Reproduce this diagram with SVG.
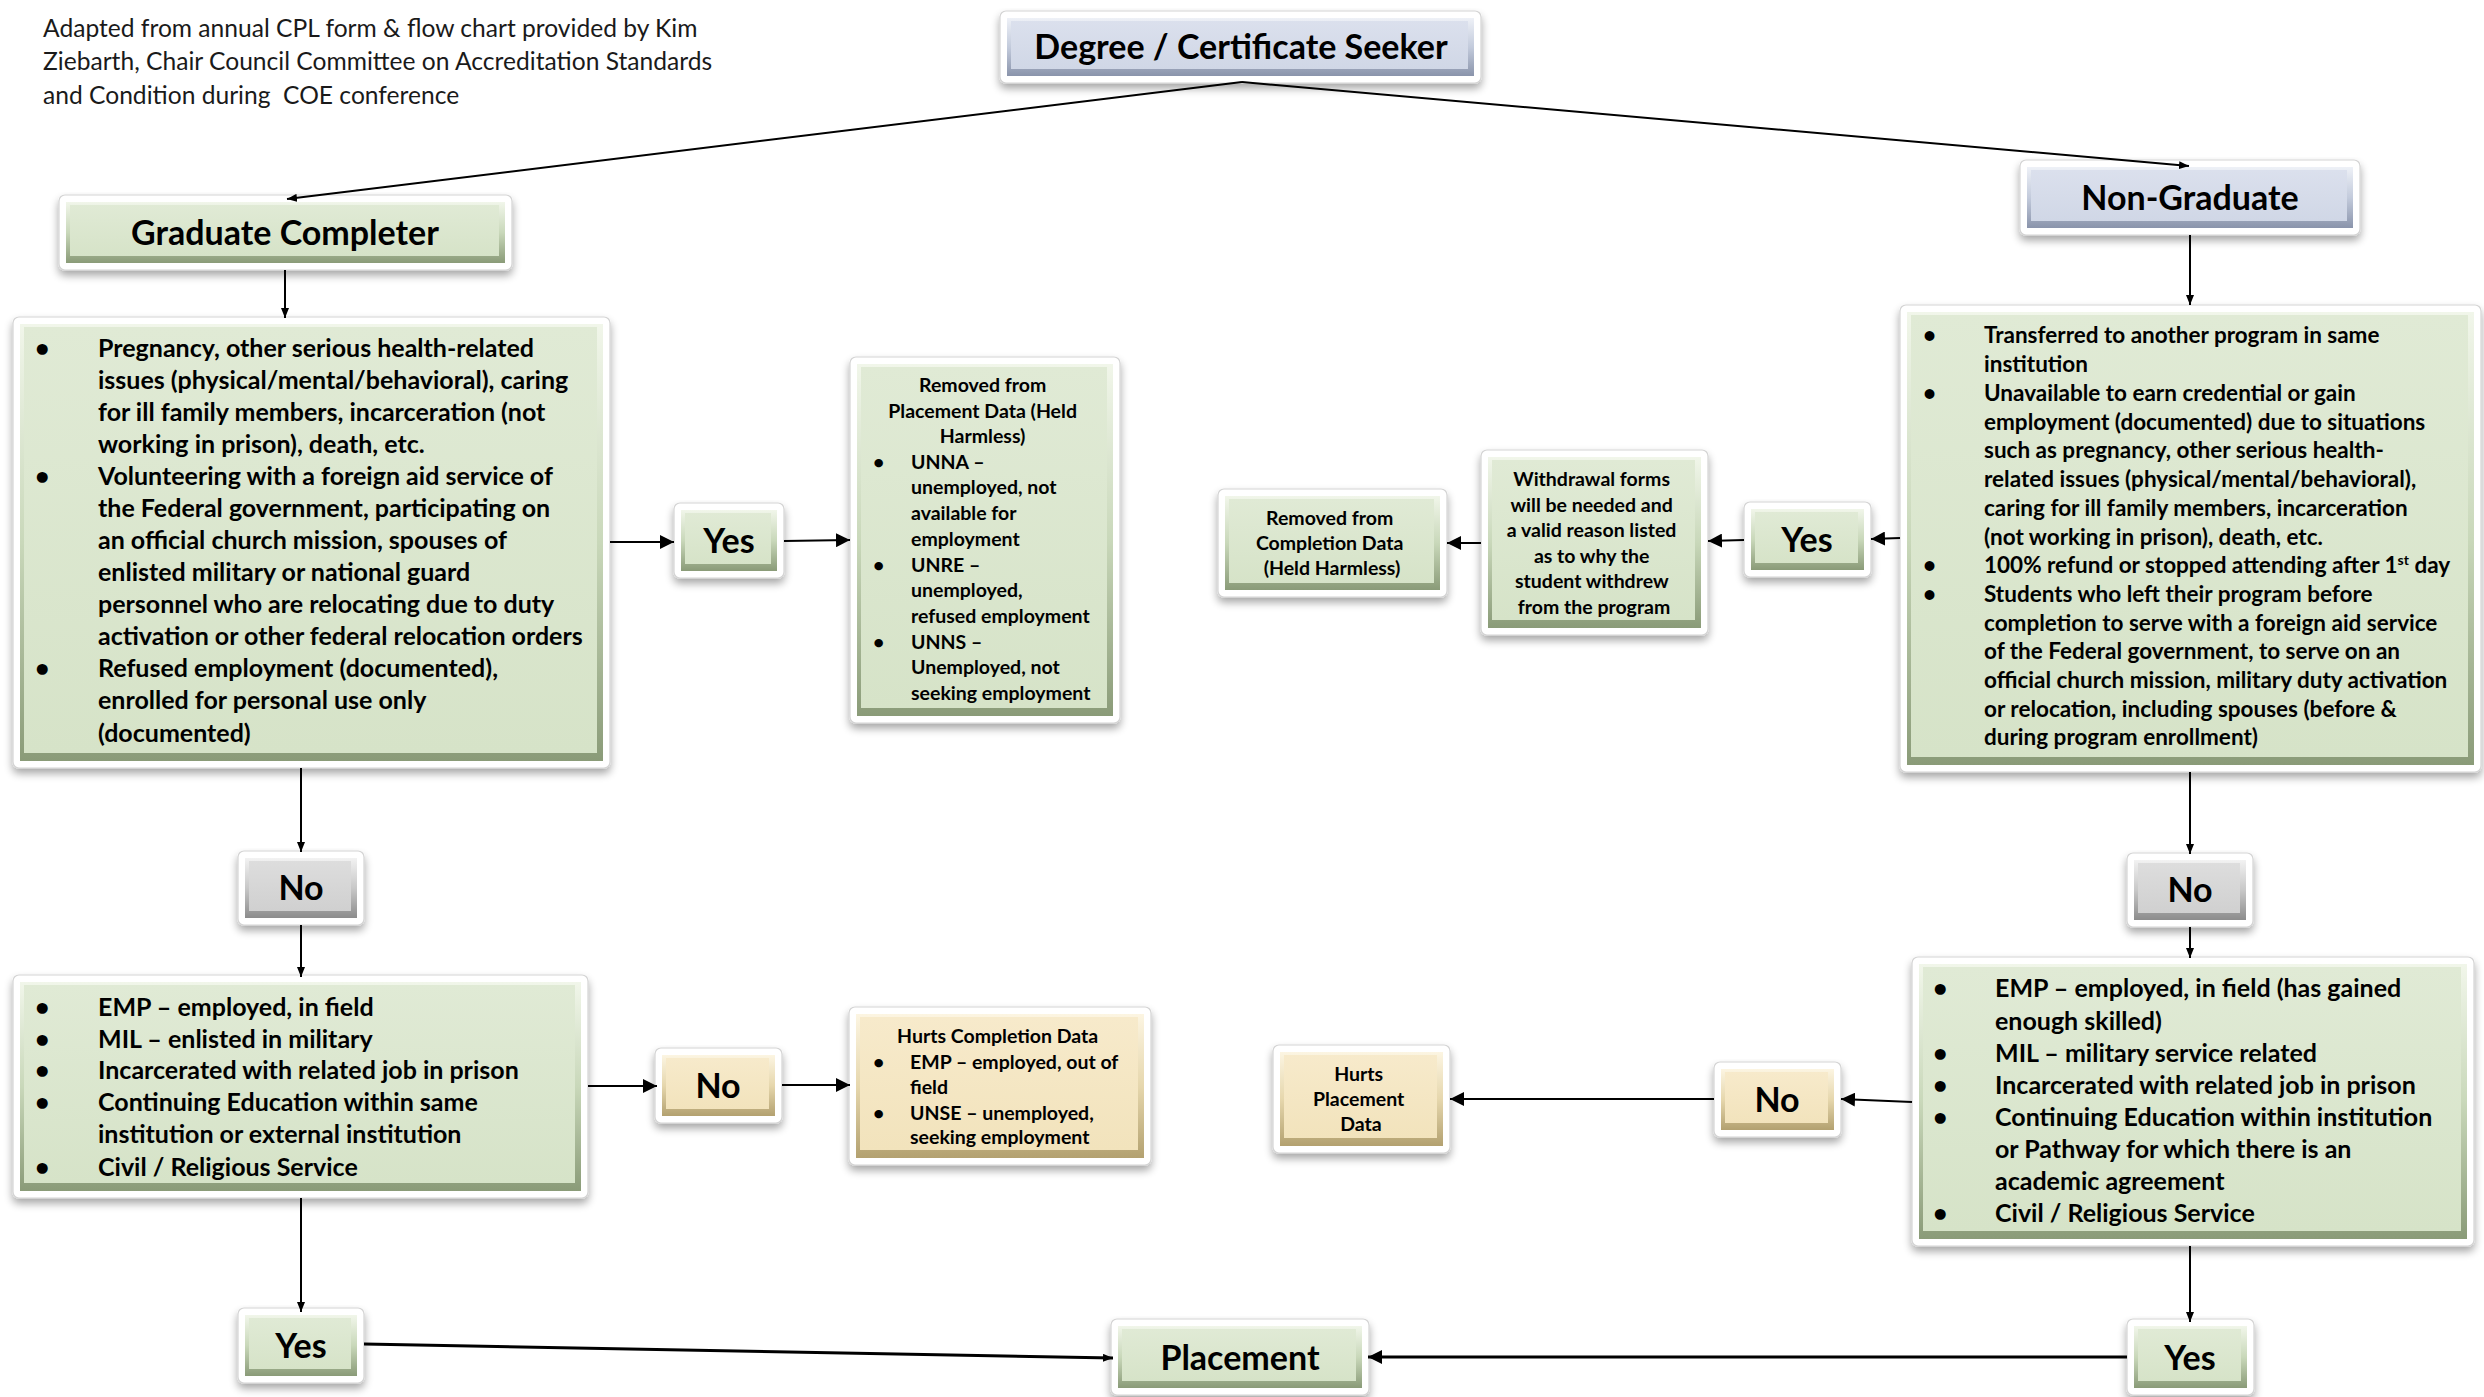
<svg xmlns="http://www.w3.org/2000/svg" width="2484" height="1397" viewBox="0 0 2484 1397">
<defs>
<filter id="sh" x="-10%" y="-10%" width="120%" height="130%">
<feGaussianBlur in="SourceAlpha" stdDeviation="4"/>
<feOffset dy="5" result="b"/>
<feComponentTransfer><feFuncA type="linear" slope="0.35"/></feComponentTransfer>
<feMerge><feMergeNode/><feMergeNode in="SourceGraphic"/></feMerge>
</filter>
<linearGradient id="gE" x1="0" y1="0" x2="0" y2="1"><stop offset="0" stop-color="#f1f6ea"/><stop offset="0.5" stop-color="#c9d8ba"/><stop offset="1" stop-color="#8a9b78"/></linearGradient>
<linearGradient id="gF" x1="0" y1="0" x2="0" y2="1"><stop offset="0" stop-color="#e0eAd5"/><stop offset="1" stop-color="#d6e3c8"/></linearGradient>
<linearGradient id="bE" x1="0" y1="0" x2="0" y2="1"><stop offset="0" stop-color="#eef1f7"/><stop offset="0.5" stop-color="#c3cbdc"/><stop offset="1" stop-color="#8a94ab"/></linearGradient>
<linearGradient id="bF" x1="0" y1="0" x2="0" y2="1"><stop offset="0" stop-color="#dbe0ed"/><stop offset="1" stop-color="#d0d7e6"/></linearGradient>
<linearGradient id="yE" x1="0" y1="0" x2="0" y2="1"><stop offset="0" stop-color="#fcf5e2"/><stop offset="0.5" stop-color="#e6d7ad"/><stop offset="1" stop-color="#b3a170"/></linearGradient>
<linearGradient id="yF" x1="0" y1="0" x2="0" y2="1"><stop offset="0" stop-color="#f7eacb"/><stop offset="1" stop-color="#f2e3bc"/></linearGradient>
<linearGradient id="kE" x1="0" y1="0" x2="0" y2="1"><stop offset="0" stop-color="#f2f2f2"/><stop offset="0.5" stop-color="#c8c8c8"/><stop offset="1" stop-color="#8c8c8c"/></linearGradient>
<linearGradient id="kF" x1="0" y1="0" x2="0" y2="1"><stop offset="0" stop-color="#dddddd"/><stop offset="1" stop-color="#d0d0d0"/></linearGradient>
<marker id="mS" markerUnits="userSpaceOnUse" markerWidth="10" markerHeight="8" refX="10" refY="4" orient="auto"><path d="M0,0 L10,4 L0,8 z" fill="#000"/></marker>
<marker id="mL" markerUnits="userSpaceOnUse" markerWidth="14" markerHeight="14" refX="14" refY="7" orient="auto"><path d="M0,0 L14,7 L0,14 z" fill="#000"/></marker>
</defs>
<style>
.frame{fill:#fff;stroke:#d4d4d4;stroke-width:1.2;filter:url(#sh)}
.ge{fill:url(#gE)}.gf{fill:url(#gF)}
.be{fill:url(#bE)}.bf{fill:url(#bF)}
.ye{fill:url(#yE)}.yf{fill:url(#yF)}
.ke{fill:url(#kE)}.kf{fill:url(#kF)}
text{font-family:Lato,"Open Sans",sans-serif;fill:#000}
.h{font-weight:700;font-size:34px;text-anchor:middle}
.b{font-weight:700;font-size:25px}
.r{font-weight:700;font-size:22.5px}
.s{font-weight:700;font-size:19.5px}
.m{text-anchor:middle}
.note{font-size:24.6px;fill:#1a1a1a}
.c{stroke:#000;stroke-width:2;fill:none}
.cs{marker-end:url(#mS)}
.cl{marker-end:url(#mL)}
.thick{stroke-width:3}
</style>

<g id="note">
<text class="note" x="43" y="37">Adapted from annual CPL form &amp; flow chart provided by Kim</text>
<text class="note" x="43" y="70">Ziebarth, Chair Council Committee on Accreditation Standards</text>
<text class="note" x="43" y="104">and Condition during&#160; COE conference</text>
</g>

<g id="degree">
<rect class="frame" x="1000" y="11" width="481" height="72" rx="6"/>
<rect class="be" x="1007" y="18" width="467" height="58"/>
<rect class="bf" x="1011" y="21" width="457" height="48"/>
<text class="h" x="1241" y="59">Degree / Certificate Seeker</text>
</g>

<g id="graduate">
<rect class="frame" x="59" y="195" width="453" height="75" rx="6"/>
<rect class="ge" x="66" y="202" width="439" height="61"/>
<rect class="gf" x="70" y="205" width="429" height="51"/>
<text class="h" x="285" y="245">Graduate Completer</text>
</g>

<g id="nongraduate">
<rect class="frame" x="2020" y="160" width="340" height="75" rx="6"/>
<rect class="be" x="2027" y="167" width="326" height="61"/>
<rect class="bf" x="2031" y="170" width="316" height="51"/>
<text class="h" x="2190" y="210">Non-Graduate</text>
</g>

<g id="left-conditions">
<rect class="frame" x="13" y="317" width="597" height="451" rx="6"/>
<rect class="ge" x="20" y="324" width="583" height="437"/>
<rect class="gf" x="24" y="327" width="573" height="426"/>
<text class="b"><tspan x="35" y="357">•</tspan><tspan x="98" y="357">Pregnancy, other serious health-related</tspan>
<tspan x="98" y="389">issues (physical/mental/behavioral), caring</tspan>
<tspan x="98" y="421">for ill family members, incarceration (not</tspan>
<tspan x="98" y="453">working in prison), death, etc.</tspan>
<tspan x="35" y="485">•</tspan><tspan x="98" y="485">Volunteering with a foreign aid service of</tspan>
<tspan x="98" y="517">the Federal government, participating on</tspan>
<tspan x="98" y="549">an official church mission, spouses of</tspan>
<tspan x="98" y="581">enlisted military or national guard</tspan>
<tspan x="98" y="613">personnel who are relocating due to duty</tspan>
<tspan x="98" y="645">activation or other federal relocation orders</tspan>
<tspan x="35" y="677">•</tspan><tspan x="98" y="677">Refused employment (documented),</tspan>
<tspan x="98" y="709">enrolled for personal use only</tspan>
<tspan x="98" y="742">(documented)</tspan></text>
</g>

<g id="yes-left">
<rect class="frame" x="674" y="503" width="110" height="75" rx="6"/>
<rect class="ge" x="681" y="510" width="96" height="61"/>
<rect class="gf" x="685" y="513" width="86" height="51"/>
<text class="h" x="729" y="553">Yes</text>
</g>

<g id="removed-placement">
<rect class="frame" x="850" y="357" width="270" height="366" rx="6"/>
<rect class="ge" x="857" y="364" width="256" height="352"/>
<rect class="gf" x="861" y="367" width="246" height="341"/>
<text class="s"><tspan class="m" x="985" y="392">Removed from</tspan>
<tspan class="m" x="985" y="418">Placement Data (Held</tspan>
<tspan class="m" x="985" y="443">Harmless)</tspan>
<tspan x="873" y="469">•</tspan><tspan x="911" y="469">UNNA –</tspan>
<tspan x="911" y="494">unemployed, not</tspan>
<tspan x="911" y="520">available for</tspan>
<tspan x="911" y="546">employment</tspan>
<tspan x="873" y="572">•</tspan><tspan x="911" y="572">UNRE –</tspan>
<tspan x="911" y="597">unemployed,</tspan>
<tspan x="911" y="623">refused employment</tspan>
<tspan x="873" y="649">•</tspan><tspan x="911" y="649">UNNS –</tspan>
<tspan x="911" y="674">Unemployed, not</tspan>
<tspan x="911" y="700">seeking employment</tspan></text>
</g>

<g id="right-conditions">
<rect class="frame" x="1900" y="305" width="581" height="467" rx="6"/>
<rect class="ge" x="1907" y="312" width="567" height="453"/>
<rect class="gf" x="1911" y="315" width="557" height="442"/>
<text class="r"><tspan x="1923" y="343">•</tspan><tspan x="1984" y="343">Transferred to another program in same</tspan>
<tspan x="1984" y="372">institution</tspan>
<tspan x="1923" y="401">•</tspan><tspan x="1984" y="401">Unavailable to earn credential or gain</tspan>
<tspan x="1984" y="430">employment (documented) due to situations</tspan>
<tspan x="1984" y="458">such as pregnancy, other serious health-</tspan>
<tspan x="1984" y="487">related issues (physical/mental/behavioral),</tspan>
<tspan x="1984" y="516">caring for ill family members, incarceration</tspan>
<tspan x="1984" y="545">(not working in prison), death, etc.</tspan>
<tspan x="1923" y="573">•</tspan><tspan x="1984" y="573">100% refund or stopped attending after 1</tspan><tspan font-size="14" dy="-8">st</tspan><tspan dy="8"> day</tspan>
<tspan x="1923" y="602">•</tspan><tspan x="1984" y="602">Students who left their program before</tspan>
<tspan x="1984" y="631">completion to serve with a foreign aid service</tspan>
<tspan x="1984" y="659">of the Federal government, to serve on an</tspan>
<tspan x="1984" y="688">official church mission, military duty activation</tspan>
<tspan x="1984" y="717">or relocation, including spouses (before &amp;</tspan>
<tspan x="1984" y="745">during program enrollment)</tspan></text>
</g>

<g id="yes-right">
<rect class="frame" x="1744" y="502" width="127" height="75" rx="6"/>
<rect class="ge" x="1751" y="509" width="113" height="61"/>
<rect class="gf" x="1755" y="512" width="103" height="51"/>
<text class="h" x="1807" y="552">Yes</text>
</g>

<g id="withdrawal">
<rect class="frame" x="1481" y="450" width="227" height="185" rx="6"/>
<rect class="ge" x="1488" y="457" width="213" height="171"/>
<rect class="gf" x="1492" y="460" width="203" height="160"/>
<text class="s m"><tspan x="1594" y="486">Withdrawal forms</tspan>
<tspan x="1594" y="512">will be needed and</tspan>
<tspan x="1594" y="537">a valid reason listed</tspan>
<tspan x="1594" y="563">as to why the</tspan>
<tspan x="1594" y="588">student withdrew</tspan>
<tspan x="1594" y="614">from the program</tspan></text>
</g>

<g id="removed-completion">
<rect class="frame" x="1218" y="489" width="229" height="108" rx="6"/>
<rect class="ge" x="1225" y="496" width="215" height="94"/>
<rect class="gf" x="1229" y="499" width="205" height="84"/>
<text class="s m"><tspan x="1332" y="525">Removed from</tspan>
<tspan x="1332" y="550">Completion Data</tspan>
<tspan x="1332" y="575">(Held Harmless)</tspan></text>
</g>

<g id="no-left">
<rect class="frame" x="238" y="851" width="126" height="74" rx="6"/>
<rect class="ke" x="245" y="858" width="112" height="60"/>
<rect class="kf" x="249" y="861" width="102" height="50"/>
<text class="h" x="301" y="900">No</text>
</g>

<g id="left-outcomes">
<rect class="frame" x="13" y="975" width="575" height="223" rx="6"/>
<rect class="ge" x="20" y="982" width="561" height="209"/>
<rect class="gf" x="24" y="985" width="551" height="198"/>
<text class="b"><tspan x="35" y="1016">•</tspan><tspan x="98" y="1016">EMP – employed, in field</tspan>
<tspan x="35" y="1048">•</tspan><tspan x="98" y="1048">MIL – enlisted in military</tspan>
<tspan x="35" y="1079">•</tspan><tspan x="98" y="1079">Incarcerated with related job in prison</tspan>
<tspan x="35" y="1111">•</tspan><tspan x="98" y="1111">Continuing Education within same</tspan>
<tspan x="98" y="1143">institution or external institution</tspan>
<tspan x="35" y="1176">•</tspan><tspan x="98" y="1176">Civil / Religious Service</tspan></text>
</g>

<g id="no-left-yellow">
<rect class="frame" x="655" y="1048" width="127" height="75" rx="6"/>
<rect class="ye" x="662" y="1055" width="113" height="61"/>
<rect class="yf" x="666" y="1058" width="103" height="51"/>
<text class="h" x="718" y="1098">No</text>
</g>

<g id="hurts-completion">
<rect class="frame" x="849" y="1007" width="302" height="158" rx="6"/>
<rect class="ye" x="856" y="1014" width="288" height="144"/>
<rect class="yf" x="860" y="1017" width="278" height="133"/>
<text class="s"><tspan class="m" x="1000" y="1043">Hurts Completion Data</tspan>
<tspan x="873" y="1069">•</tspan><tspan x="910" y="1069">EMP – employed, out of</tspan>
<tspan x="910" y="1094">field</tspan>
<tspan x="873" y="1120">•</tspan><tspan x="910" y="1120">UNSE – unemployed,</tspan>
<tspan x="910" y="1144">seeking employment</tspan></text>
</g>

<g id="no-right">
<rect class="frame" x="2127" y="853" width="126" height="74" rx="6"/>
<rect class="ke" x="2134" y="860" width="112" height="60"/>
<rect class="kf" x="2138" y="863" width="102" height="50"/>
<text class="h" x="2190" y="902">No</text>
</g>

<g id="right-outcomes">
<rect class="frame" x="1912" y="957" width="562" height="289" rx="6"/>
<rect class="ge" x="1919" y="964" width="548" height="275"/>
<rect class="gf" x="1923" y="967" width="538" height="264"/>
<text class="b"><tspan x="1933" y="997">•</tspan><tspan x="1995" y="997">EMP – employed, in field (has gained</tspan>
<tspan x="1995" y="1030">enough skilled)</tspan>
<tspan x="1933" y="1062">•</tspan><tspan x="1995" y="1062">MIL – military service related</tspan>
<tspan x="1933" y="1094">•</tspan><tspan x="1995" y="1094">Incarcerated with related job in prison</tspan>
<tspan x="1933" y="1126">•</tspan><tspan x="1995" y="1126">Continuing Education within institution</tspan>
<tspan x="1995" y="1158">or Pathway for which there is an</tspan>
<tspan x="1995" y="1190">academic agreement</tspan>
<tspan x="1933" y="1222">•</tspan><tspan x="1995" y="1222">Civil / Religious Service</tspan></text>
</g>

<g id="no-right-yellow">
<rect class="frame" x="1714" y="1062" width="127" height="75" rx="6"/>
<rect class="ye" x="1721" y="1069" width="113" height="61"/>
<rect class="yf" x="1725" y="1072" width="103" height="51"/>
<text class="h" x="1777" y="1112">No</text>
</g>

<g id="hurts-placement">
<rect class="frame" x="1273" y="1045" width="177" height="108" rx="6"/>
<rect class="ye" x="1280" y="1052" width="163" height="94"/>
<rect class="yf" x="1284" y="1055" width="153" height="83"/>
<text class="s m"><tspan x="1361" y="1081">Hurts</tspan>
<tspan x="1361" y="1106">Placement</tspan>
<tspan x="1361" y="1131">Data</tspan></text>
</g>

<g id="yes-bottom-left">
<rect class="frame" x="238" y="1308" width="126" height="75" rx="6"/>
<rect class="ge" x="245" y="1315" width="112" height="61"/>
<rect class="gf" x="249" y="1318" width="102" height="51"/>
<text class="h" x="301" y="1358">Yes</text>
</g>

<g id="placement">
<rect class="frame" x="1111" y="1319" width="258" height="76" rx="6"/>
<rect class="ge" x="1118" y="1326" width="244" height="62"/>
<rect class="gf" x="1122" y="1329" width="234" height="52"/>
<text class="h" x="1240" y="1370">Placement</text>
</g>

<g id="yes-bottom-right">
<rect class="frame" x="2127" y="1319" width="127" height="76" rx="6"/>
<rect class="ge" x="2134" y="1326" width="113" height="62"/>
<rect class="gf" x="2138" y="1329" width="103" height="52"/>
<text class="h" x="2190" y="1370">Yes</text>
</g>

<g id="connectors">
<line class="c cs" x1="1242" y1="82" x2="287" y2="199"/>
<line class="c cs" x1="1242" y1="82" x2="2189" y2="166"/>
<line class="c cs" x1="285" y1="270" x2="285" y2="318"/>
<line class="c cl" x1="610" y1="542" x2="674" y2="542"/>
<line class="c cl" x1="784" y1="541" x2="850" y2="540"/>
<line class="c cs" x1="2190" y1="235" x2="2190" y2="305"/>
<line class="c cl" x1="1900" y1="538" x2="1871" y2="539"/>
<line class="c cl" x1="1744" y1="540" x2="1708" y2="541"/>
<line class="c cl" x1="1481" y1="543" x2="1447" y2="543"/>
<line class="c cs" x1="301" y1="768" x2="301" y2="852"/>
<line class="c cs" x1="301" y1="925" x2="301" y2="977"/>
<line class="c cl" x1="588" y1="1086" x2="657" y2="1086"/>
<line class="c cl" x1="782" y1="1085" x2="850" y2="1085"/>
<line class="c cs" x1="2190" y1="772" x2="2190" y2="854"/>
<line class="c cs" x1="2190" y1="927" x2="2190" y2="958"/>
<line class="c cl" x1="1912" y1="1102" x2="1841" y2="1099"/>
<line class="c cl" x1="1714" y1="1099" x2="1450" y2="1099"/>
<line class="c cs" x1="301" y1="1198" x2="301" y2="1312"/>
<line class="c cs" x1="2190" y1="1246" x2="2190" y2="1322"/>
<line class="c cs thick" x1="364" y1="1344" x2="1113" y2="1358"/>
<line class="c cl thick" x1="2127" y1="1357" x2="1368" y2="1357"/>
</g>
</svg>
